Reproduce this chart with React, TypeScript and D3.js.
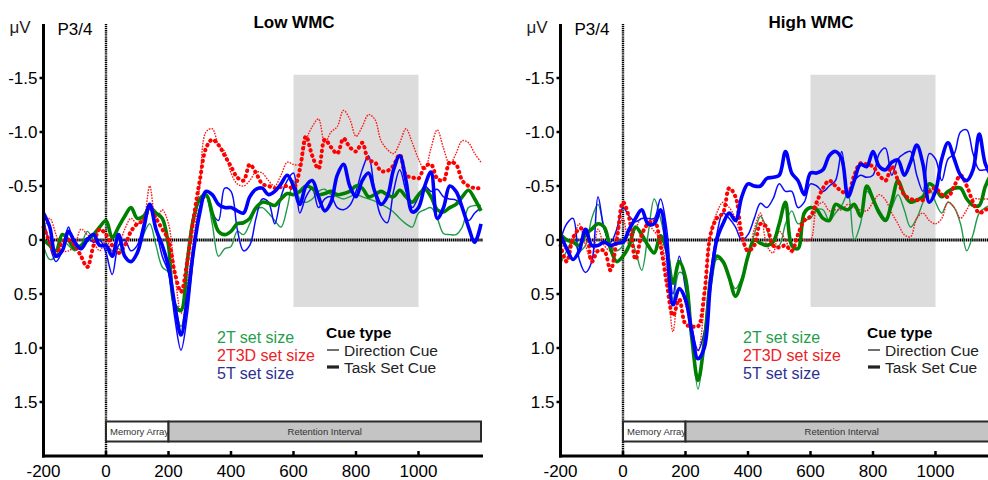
import React from 'react';
import * as d3 from 'd3';

// Sample times (ms) shared by every waveform
const times = [
  -200, -180, -160, -140, -120, -100, -80, -60, -40, -20,
  0, 20, 40, 60, 80, 100, 120, 140, 160, 180,
  200, 220, 240, 260, 280, 300, 320, 340, 360, 380,
  400, 420, 440, 460, 480, 500, 520, 540, 560, 580,
  600, 620, 640, 660, 680, 700, 720, 740, 760, 780,
  800, 820, 840, 860, 880, 900, 920, 940, 960, 980,
  1000, 1020, 1040, 1060, 1080, 1100, 1120, 1140, 1160, 1180, 1200,
];

// Low WMC group (µV, negative up)
const lowDir2T = [
  0.05, 0.18, 0.15, 0.0, 0.05, 0.1, 0.05, -0.08, 0.0, 0.05,
  0.05, 0.1, 0.08, 0.15, 0.2, 0.1, -0.05, -0.15, 0.05, 0.25,
  0.3, 0.6, 0.8, 0.5, 0.1, -0.3, -0.4, -0.15, 0.15, 0.08,
  0.06, -0.08, -0.05, -0.15, -0.28, -0.3, -0.25, -0.18, -0.12, -0.3,
  -0.55, -0.38, -0.35, -0.38, -0.45, -0.47, -0.42, -0.4, -0.38, -0.4,
  -0.42, -0.4, -0.38, -0.36, -0.33, -0.3, -0.26, -0.2, -0.15, -0.12,
  -0.25, -0.28, -0.3, -0.2, -0.06, -0.05, -0.05, -0.12, -0.3, -0.32, -0.32,
];
const lowTask2T = [
  0.0, 0.05, 0.1, -0.05, 0.0, 0.08, 0.05, 0.0, -0.05, -0.12,
  -0.18, -0.02, -0.12, -0.22, -0.3, -0.2, -0.22, -0.3, -0.25, -0.2,
  0.05, 0.6, 0.65, 0.2, -0.2, -0.38, -0.42, -0.25, -0.08, -0.05,
  -0.08, -0.15, -0.16, -0.2, -0.3, -0.35, -0.34, -0.32, -0.38, -0.43,
  -0.42, -0.45, -0.5, -0.48, -0.42, -0.43, -0.45, -0.42, -0.43, -0.45,
  -0.5, -0.48, -0.4, -0.42, -0.45, -0.42, -0.4, -0.46, -0.4, -0.35,
  -0.42, -0.47, -0.4, -0.28, -0.26, -0.3, -0.33, -0.4, -0.46, -0.38, -0.27,
];
const lowDir2T3D = [
  -0.1, -0.2, -0.05, 0.1, 0.1, 0.05, -0.1, -0.05, 0.02, 0.1,
  0.0, 0.1, 0.05, -0.1, -0.2, -0.15, -0.2, -0.5, -0.18, -0.28,
  -0.15, 0.3, 0.68, 0.4, 0.0, -0.5, -1.0, -1.03, -0.88, -0.82,
  -0.62, -0.52, -0.5, -0.55, -0.63, -0.62, -0.55, -0.5, -0.6, -0.72,
  -0.7, -0.7, -0.92, -1.05, -1.12, -0.9, -1.0, -1.05, -1.2, -1.12,
  -0.96, -1.05, -1.16, -1.12, -0.92, -0.84, -0.8, -0.9, -1.03, -0.9,
  -0.75, -0.65, -0.85, -1.02, -0.85, -0.7, -0.8, -0.92, -0.9, -0.8, -0.72,
];
const lowTask2T3D = [
  -0.12, 0.02, 0.15, 0.02, 0.0, 0.05, 0.15, 0.25, 0.05, -0.1,
  -0.05, 0.05, 0.12, 0.05, -0.08, -0.15, -0.18, -0.3, -0.2, -0.1,
  0.0, 0.3, 0.48, 0.2, -0.2, -0.55, -0.85, -0.93, -0.88, -0.78,
  -0.68, -0.58, -0.55, -0.7, -0.62, -0.52, -0.5, -0.48, -0.49, -0.5,
  -0.48, -0.65, -0.96, -0.78, -0.66, -0.93, -0.86, -0.8, -0.94, -0.86,
  -0.82, -0.9, -0.74, -0.72, -0.64, -0.64, -0.69, -0.79, -0.6, -0.58,
  -0.57, -0.68, -0.7, -0.57, -0.55, -0.72, -0.7, -0.55, -0.5, -0.48, -0.48,
];
const lowDir5T = [
  -0.2, 0.05, 0.2, 0.1, -0.12, 0.05, 0.05, -0.02, 0.02, 0.0,
  0.12, 0.32, 0.05, 0.0, 0.1, 0.05, -0.15, -0.3, -0.1, 0.15,
  0.3, 0.72, 1.02, 0.7, 0.15, -0.3, -0.42, -0.25, -0.18, -0.48,
  -0.45, -0.1, 0.1, 0.05, -0.2, -0.38, -0.35, -0.15, -0.4, -0.55,
  -0.62, -0.25, -0.4, -0.48, -0.3, -0.38, -0.4, -0.3, -0.28, -0.32,
  -0.45, -0.65, -0.78, -0.45, -0.22, -0.16, -0.45, -0.65, -0.45, -0.3,
  -0.4, -0.5, -0.45, -0.47, -0.4, -0.38, -0.37, -0.3, -0.18, -0.25, -0.3,
];
const lowTask5T = [
  -0.25, -0.12, 0.15, 0.1, -0.08, 0.02, 0.08, 0.0, -0.05, 0.05,
  0.05, 0.15, -0.05, 0.15, 0.2, 0.12, -0.1, -0.33, -0.1, 0.05,
  0.25, 0.6, 0.88, 0.55, 0.1, -0.25, -0.45, -0.42, -0.33, -0.3,
  -0.3, -0.27, -0.25, -0.4, -0.47, -0.48, -0.42, -0.45, -0.52, -0.6,
  -0.5, -0.33, -0.5, -0.55, -0.4, -0.27, -0.35, -0.6, -0.7, -0.5,
  -0.4, -0.55, -0.62, -0.45, -0.33, -0.4, -0.65, -0.78, -0.55, -0.26,
  -0.3, -0.5, -0.63, -0.2, -0.3, -0.5, -0.45, -0.3, -0.12, 0.02, -0.15,
];

// High WMC group (µV, negative up)
const highDir2T = [
  0.22, 0.1, 0.0, 0.1, 0.05, -0.2, -0.33, -0.1, 0.05, 0.1,
  0.05, -0.05, 0.1, 0.28, -0.05, -0.38, -0.2, 0.1, 0.55, 0.3,
  0.35, 0.9, 1.38, 0.95, 0.3, 0.18, 0.2, 0.35, 0.45, 0.35,
  0.15, -0.05, -0.22, -0.1, 0.05, 0.05, -0.15, -0.27, -0.15, -0.18,
  -0.2, -0.28, -0.28, -0.18, -0.25, -0.32, -0.43, 0.0, -0.15, -0.45,
  -0.38, -0.28, -0.2, -0.3, -0.42, -0.28, -0.12, -0.2, -0.35, -0.48,
  -0.35, -0.25, -0.35, -0.3, -0.15, 0.1, -0.05, -0.25, -0.3, -0.32, -0.3,
];
const highTask2T = [
  -0.05, 0.0, 0.02, 0.05, -0.05, -0.1, -0.15, -0.12, 0.08, 0.2,
  0.15, 0.05, -0.12, -0.05, 0.05, 0.12, -0.04, 0.1, 0.4, 0.2,
  0.35, 0.9, 1.3, 0.95, 0.4, 0.15, 0.2, 0.35, 0.52, 0.38,
  0.15, 0.0, 0.03, 0.05, 0.02, -0.15, -0.35, 0.05, 0.08, -0.25,
  -0.3, -0.28, -0.2, -0.18, -0.33, -0.3, -0.28, -0.33, -0.22, -0.5,
  -0.38, -0.25, -0.18, -0.35, -0.55, -0.42, -0.35, -0.37, -0.4, -0.52,
  -0.48, -0.4, -0.45, -0.48, -0.48, -0.38, -0.32, -0.32, -0.5, -0.6, -0.55,
];
const highDir2T3D = [
  -0.05, 0.1, 0.0, -0.15, 0.05, 0.2, -0.1, 0.05, 0.1, -0.05,
  -0.2, 0.05, -0.1, -0.2, -0.15, -0.08, 0.0, 0.3, 0.85, 0.45,
  0.6, 0.85, 1.03, 0.6, -0.05, -0.25, -0.35, -0.3, -0.2, 0.0,
  0.12, -0.1, -0.25, 0.05, 0.12, -0.08, 0.0, 0.12, -0.05, 0.0,
  0.0, -0.3, -0.35, -0.27, -0.28, -0.28, -0.33, -0.3, -0.28, -0.27,
  -0.35, -0.42, -0.37, -0.25, -0.15, -0.05, -0.03, -0.2, -0.25, -0.18,
  -0.15, -0.2, -0.35, -0.3, -0.2, -0.28, -0.38, -0.38, -0.38, -0.38, -0.38,
];
const highTask2T3D = [
  0.05, 0.2, -0.02, -0.1, -0.1, 0.2, 0.1, 0.1, 0.28, 0.0,
  -0.35, -0.2, 0.18, -0.05, -0.15, -0.18, 0.05, 0.4, 0.7, 0.55,
  0.78, 0.8, 0.8, 0.5, -0.05, -0.2, -0.25, -0.48, -0.4, -0.05,
  0.1, 0.05, -0.15, -0.12, 0.05, 0.07, 0.05, 0.1, -0.05, -0.18,
  -0.22, -0.35, -0.48, -0.55, -0.5, -0.45, -0.43, -0.6, -0.71, -0.7,
  -0.68, -0.6, -0.55, -0.68, -0.55, -0.42, -0.38, -0.37, -0.37, -0.45,
  -0.48, -0.42, -0.4, -0.5, -0.6, -0.5, -0.35, -0.25, -0.28, -0.3, -0.3,
];
const highDir5T = [
  0.0, -0.15, -0.2, 0.18, 0.3, 0.2, -0.4, -0.1, 0.02, -0.1,
  -0.3, -0.22, -0.17, -0.2, -0.2, -0.2, -0.38, -0.1, 0.5, 0.15,
  0.45, 0.8, 1.02, 0.85, 0.3, -0.05, -0.25, -0.2, -0.12, 0.0,
  -0.05, -0.2, -0.34, -0.3, -0.38, -0.52, -0.45, -0.45, -0.3, -0.35,
  -0.52, -0.5, -0.45, -0.5, -0.55, -0.82, -0.45, -0.55, -0.6, -0.58,
  -0.6, -0.8, -0.85, -0.6, -0.75, -0.8, -0.82, -0.6, -0.45, -0.8,
  -0.75, -0.55, -0.75, -0.8, -1.0, -1.02, -0.8, -0.65, -0.65, -0.65, -0.65,
];
const highTask5T = [
  -0.05, 0.08, 0.18, 0.1, -0.1, 0.05, 0.05, 0.02, 0.05, 0.03,
  0.02, -0.1, -0.2, -0.28, -0.15, -0.15, -0.28, 0.08, 0.6, 0.45,
  0.55, 0.85, 1.1, 1.0, 0.4, 0.0, -0.15, -0.25, -0.18, -0.4,
  -0.52, -0.5, -0.5, -0.57, -0.58, -0.6, -0.82, -0.62, -0.55, -0.42,
  -0.62, -0.62, -0.65, -0.78, -0.82, -0.75, -0.4, -0.55, -0.7, -0.68,
  -0.82, -0.68, -0.65, -0.72, -0.74, -0.6, -0.72, -0.88, -0.7, -0.35,
  -0.45, -0.75, -0.9, -0.75, -0.6, -0.55, -0.65, -0.98, -0.7, -0.6, -0.6,
];

const yTicks = [-1.5, -1.0, -0.5, 0, 0.5, 1.0, 1.5];
const yTickLabels = ['-1.5', '-1.0', '-0.5', '0', '0.5', '1.0', '1.5'];
const xTicks = [-200, 0, 200, 400, 600, 800, 1000];
const setSizeLabels = ['2T set size', '2T3D set size', '5T set size'];
const cueLabels = ['Direction Cue', 'Task Set Cue'];
const panelTitles = ['Low WMC', 'High WMC'];

const FONT = '"Liberation Sans", Arial, Helvetica, sans-serif';

type Trace = { values: number[]; color: string; width: number; dash?: string; cap?: string };

function tracesFor(d: {
  dir2T: number[]; task2T: number[]; dir2T3D: number[];
  task2T3D: number[]; dir5T: number[]; task5T: number[];
}): Trace[] {
  return [
    { values: d.dir2T, color: '#1f9a4b', width: 1.4 },
    { values: d.dir2T3D, color: '#ff1a1a', width: 1.4, dash: '1.6 1.2' },
    { values: d.dir5T, color: '#0a0aff', width: 1.5 },
    { values: d.task2T, color: '#008000', width: 3.6 },
    { values: d.task2T3D, color: '#ff0000', width: 4, dash: '0.5 5', cap: 'round' },
    { values: d.task5T, color: '#0000ff', width: 3.6 },
  ];
}

const panels = [
  {
    shift: 0,
    title: panelTitles[0],
    legendX: 217,
    cueX: 326,
    traces: tracesFor({
      dir2T: lowDir2T, task2T: lowTask2T, dir2T3D: lowDir2T3D,
      task2T3D: lowTask2T3D, dir5T: lowDir5T, task5T: lowTask5T,
    }),
  },
  {
    shift: 517,
    title: panelTitles[1],
    legendX: 743,
    cueX: 867,
    traces: tracesFor({
      dir2T: highDir2T, task2T: highTask2T, dir2T3D: highDir2T3D,
      task2T3D: highTask2T3D, dir5T: highDir5T, task5T: highTask5T,
    }),
  },
];

const y = d3.scaleLinear().domain([-2, 2]).range([24, 456]);

function Panel({ p }: { p: (typeof panels)[number] }) {
  const x = d3.scaleLinear().domain([-200, 1200]).range([43.5 + p.shift, 481 + p.shift]);
  const line = d3
    .line<number>()
    .x((_, i) => x(times[i]))
    .y((v) => y(v))
    .curve(d3.curveCatmullRom.alpha(0.5));
  const axisBottom = 456;
  const left = x(-200);
  const right = x(1200) + 2;
  const legendColors = ['#1f9e4a', '#ec2227', '#2e3192'];

  return (
    <g fontFamily={FONT}>
      {/* analysis window */}
      <rect x={x(600)} y={y(-1.53)} width={x(1000) - x(600)} height={y(0.62) - y(-1.53)} fill="#dcdcdc" />

      {/* zero reference lines */}
      <line x1={left} x2={right} y1={y(0)} y2={y(0)} stroke="#000" strokeWidth={3} strokeDasharray="1.5 0.6" />
      <line x1={x(0)} x2={x(0)} y1={24} y2={axisBottom} stroke="#000" strokeWidth={2.4} strokeDasharray="1.2 0.7" />

      {/* waveforms */}
      {p.traces.map((t, i) => (
        <path
          key={i}
          d={line(t.values) || ''}
          fill="none"
          stroke={t.color}
          strokeWidth={t.width}
          strokeDasharray={t.dash}
          strokeLinecap={(t.cap as any) || 'butt'}
          strokeLinejoin="round"
        />
      ))}

      {/* trial timeline */}
      <rect x={x(0)} y={421.5} width={x(200) - x(0)} height={20} fill="#fff" stroke="#2a2a2a" strokeWidth={2} />
      <rect x={x(200)} y={421.5} width={x(1200) - x(200)} height={20} fill="#c4c4c4" stroke="#2a2a2a" strokeWidth={2} />
      <text x={x(0) + 4} y={435} fontSize={9.5} fill="#333">Memory Array</text>
      <text x={(x(200) + x(1200)) / 2} y={435} fontSize={9.5} fill="#333" textAnchor="middle">Retention Interval</text>

      {/* y axis */}
      <line x1={left} x2={left} y1={24} y2={axisBottom + 1.5} stroke="#000" strokeWidth={3} />
      {yTicks.map((v, i) => (
        <g key={v}>
          <line x1={left - 4} x2={left} y1={y(v)} y2={y(v)} stroke="#000" strokeWidth={2.5} />
          <text x={left - 6} y={y(v) + 6} fontSize={17} textAnchor="end" fill="#000">{yTickLabels[i]}</text>
        </g>
      ))}

      {/* x axis */}
      <line x1={left - 1.5} x2={right} y1={axisBottom} y2={axisBottom} stroke="#000" strokeWidth={3} />
      {xTicks.map((t) => (
        <g key={t}>
          <line x1={x(t)} x2={x(t)} y1={axisBottom - 5} y2={axisBottom} stroke="#000" strokeWidth={2.5} />
          <text x={x(t)} y={477} fontSize={17} textAnchor="middle" fill="#000">{t}</text>
        </g>
      ))}

      <text x={left - 34} y={33} fontSize={17} fill="#222">μV</text>
      <text x={left + 14} y={35} fontSize={17} fill="#000">P3/4</text>
      <text x={(x(200) + x(1000)) / 2 + 0.5} y={28} fontSize={17} fontWeight="bold" textAnchor="middle" fill="#000">
        {p.title}
      </text>

      {/* legend */}
      {setSizeLabels.map((s, i) => (
        <text key={s} x={p.legendX} y={343 + i * 18} fontSize={16} fill={legendColors[i]}>{s}</text>
      ))}
      <text x={p.cueX} y={338} fontSize={15.5} fontWeight="bold" fill="#000">Cue type</text>
      <line x1={p.cueX + 1} x2={p.cueX + 13} y1={350} y2={350} stroke="#222" strokeWidth={1.3} />
      <line x1={p.cueX + 1} x2={p.cueX + 13} y1={367} y2={367} stroke="#222" strokeWidth={3.2} />
      <text x={p.cueX + 18} y={355.5} fontSize={15.5} fill="#222">{cueLabels[0]}</text>
      <text x={p.cueX + 18} y={373} fontSize={15.5} fill="#222">{cueLabels[1]}</text>
    </g>
  );
}

export default function App() {
  return (
    <svg
      width={988}
      height={480}
      viewBox="0 0 988 480"
      style={{ position: 'absolute', left: 0, top: 0, background: '#fff' }}
    >
      <rect width={988} height={480} fill="#fff" />
      {panels.map((p) => (
        <Panel key={p.title} p={p} />
      ))}
    </svg>
  );
}
